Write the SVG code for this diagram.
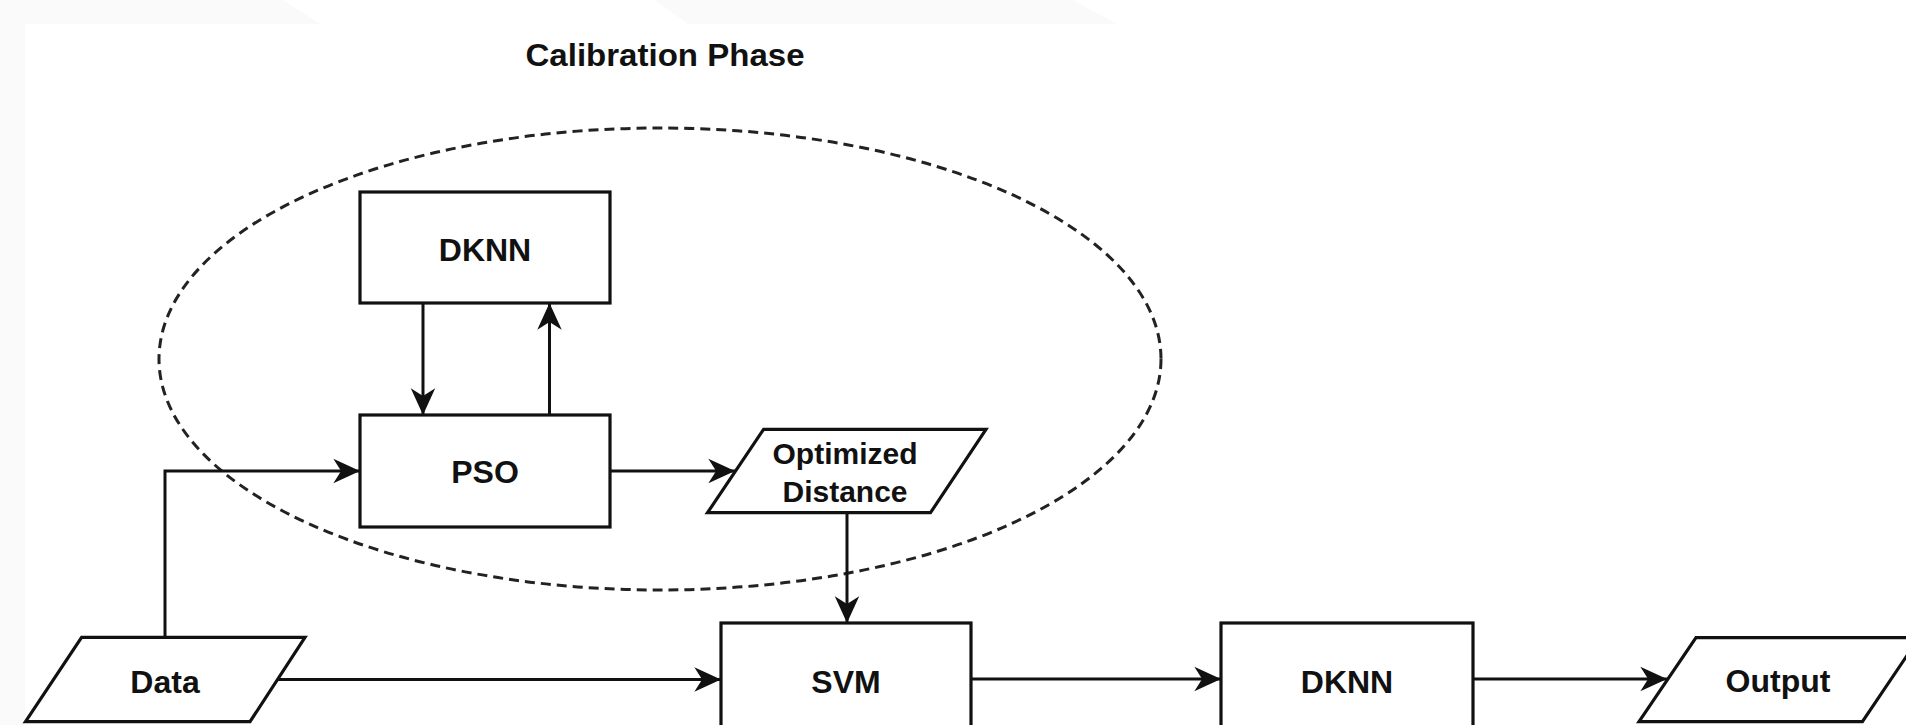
<svg xmlns="http://www.w3.org/2000/svg" width="1906" height="725" viewBox="0 0 1906 725">
<style>
.bg{fill:#fafafa;stroke:none}
.shape{fill:#fff;stroke:#111;stroke-width:3.2}
.lbl{font-family:"Liberation Sans",Arial,sans-serif;font-weight:bold;font-size:32px;fill:#111;text-anchor:middle}
.lbl2{font-family:"Liberation Sans",Arial,sans-serif;font-weight:bold;font-size:30px;fill:#111;text-anchor:middle}
.edge{fill:none;stroke:#111;stroke-width:3}
.group{fill:none;stroke:#222;stroke-width:3;stroke-dasharray:10 6}
</style>
<defs>
<marker id="arr" markerUnits="userSpaceOnUse" markerWidth="30" markerHeight="30" viewBox="-25 -13 27 26" refX="0" refY="0" orient="auto">
<path d="M0,0 L-24,-11 L-17,0 L-24,11 Z" fill="#111"/>
</marker>
</defs>
<rect width="1906" height="725" fill="#fff"/>
<g id="background">
<rect class="bg" x="0" y="0" width="25" height="725"/>
<polygon class="bg" points="0,0 283,0 320,24 0,24"/>
<polygon class="bg" points="655,0 1073,0 1117,24 688,24"/>
</g>
<g id="calibration-phase">
<ellipse class="group" cx="660" cy="359" rx="501" ry="231"/>
<text class="lbl" x="665" y="66" font-size="33" textLength="279" lengthAdjust="spacingAndGlyphs">Calibration Phase</text>
</g>
<g id="connectors">
<path class="edge" d="M423,303 V415" marker-end="url(#arr)"/>
<path class="edge" d="M549.5,415 V303" marker-end="url(#arr)"/>
<path class="edge" d="M165,637 V471 H360" marker-end="url(#arr)"/>
<path class="edge" d="M610,471 H735" marker-end="url(#arr)"/>
<path class="edge" d="M847,513 V623" marker-end="url(#arr)"/>
<path class="edge" d="M278,679.5 H721" marker-end="url(#arr)"/>
<path class="edge" d="M971,679 H1221" marker-end="url(#arr)"/>
<path class="edge" d="M1473,679 H1667" marker-end="url(#arr)"/>
</g>
<g id="node-dknn-calib">
<rect class="shape" x="360" y="192" width="250" height="111"/>
<text class="lbl" x="485" y="261">DKNN</text>
</g>
<g id="node-pso">
<rect class="shape" x="360" y="415" width="250" height="112"/>
<text class="lbl" x="485" y="483">PSO</text>
</g>
<g id="node-optimized-distance">
<polygon class="shape" points="763.6,429.3 986,429.3 930.5,512.7 707.5,512.7"/>
<text class="lbl2" x="845" y="464">Optimized</text>
<text class="lbl2" x="845" y="502">Distance</text>
</g>
<g id="node-data">
<polygon class="shape" points="81.6,637.3 305,637.3 250,721.7 25.5,721.7"/>
<text class="lbl" x="165" y="693">Data</text>
</g>
<g id="node-svm">
<rect class="shape" x="721" y="623" width="250" height="115"/>
<text class="lbl" x="846" y="693">SVM</text>
</g>
<g id="node-dknn">
<rect class="shape" x="1221" y="623" width="252" height="115"/>
<text class="lbl" x="1347" y="693">DKNN</text>
</g>
<g id="node-output">
<polygon class="shape" points="1696,637.7 1919,637.7 1862.4,721.7 1639,721.7"/>
<text class="lbl" x="1778" y="692">Output</text>
</g>
</svg>
